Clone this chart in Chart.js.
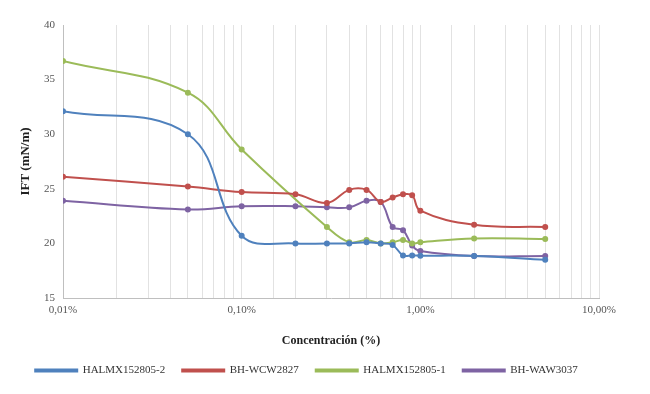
<!DOCTYPE html>
<html>
<head>
<meta charset="utf-8">
<script src="https://cdn.jsdelivr.net/npm/chart.js@4/dist/chart.umd.min.js"></script>
<style>
  body { margin: 0; background: #fff; }
  #wrap { width: 650px; height: 394px; }
</style>
</head>
<body>
<div id="wrap"><canvas id="ift-chart"></canvas></div>
<script>
// concentracion in %, shared by all series (null = no point)
const conc = [0.01, 0.05, 0.1, 0.2, 0.3, 0.4, 0.5, 0.6, 0.7, 0.8, 0.9, 1, 2, 5];

const halmx2 = [32.1, 30.0, 20.7, 20.0, 20.0, 20.0, 20.1, 20.0, 19.85, 18.9, 18.9, 18.88, 18.85, 18.5];
const bhWcw = [26.1, 25.2, 24.7, 24.5, 23.7, 24.9, 24.9, 23.8, 24.2, 24.5, 24.4, 23.0, 21.7, 21.5];
const halmx1 = [36.7, 33.8, 28.6, null, 21.5, 20.1, 20.3, 20.0, 20.1, 20.3, 20.0, 20.1, 20.45, 20.4];
const bhWaw = [23.9, 23.1, 23.4, 23.4, 23.3, 23.3, 23.9, 23.8, 21.5, 21.2, 19.8, 19.3, 18.85, 18.85];

const seriesNames = ['HALMX152805-2', 'BH-WCW2827', 'HALMX152805-1', 'BH-WAW3037'];
const seriesColors = ['#4f81bd', '#c0504d', '#9bbb59', '#7e63a3'];
const xTickValues = [0.01, 0.1, 1, 10];

const ctx = document.getElementById('ift-chart').getContext('2d');

function toPoints(values) {
    return conc.map((c, i) => ({ x: c, y: values[i] }));
}

const datasets = [halmx2, bhWcw, halmx1, bhWaw].map((vals, i) => ({
    label: seriesNames[i],
    data: toPoints(vals),
    borderColor: seriesColors[i],
    backgroundColor: seriesColors[i],
    borderWidth: 2,
    pointRadius: 2,
    pointHoverRadius: 2,
    tension: 0.4,
    spanGaps: true
}));

const serif = 'Liberation Serif, Times New Roman, serif';

function isDecade(v) {
    const l = Math.log10(v);
    return Math.abs(l - Math.round(l)) < 1e-6;
}

new Chart(ctx, {
    type: 'line',
    data: { datasets: datasets },
    options: {
        responsive: true,
        maintainAspectRatio: false,
        animation: false,
        layout: { padding: { left: 14, right: 51, top: 25, bottom: 8 } },
        plugins: {
            tooltip: { enabled: false },
            legend: {
                position: 'bottom',
                labels: {
                    boxWidth: 42,
                    boxHeight: 2,
                    padding: 17,
                    color: '#333',
                    font: { family: serif, size: 11 }
                }
            }
        },
        scales: {
            x: {
                type: 'logarithmic',
                min: 0.01,
                max: 10,
                grid: { color: '#e2e2e2', drawTicks: false },
                border: { color: '#bfbfbf' },
                ticks: {
                    autoSkip: false,
                    maxRotation: 0,
                    padding: 6,
                    color: '#555',
                    font: { family: serif, size: 11 },
                    callback: function(value) {
                        if (!isDecade(value)) return '';
                        const t = xTickValues.find(v => Math.abs(v - value) / v < 1e-6);
                        return t === undefined ? '' : t.toFixed(2).replace('.', ',') + '%';
                    }
                },
                title: {
                    display: true,
                    text: 'Concentración (%)',
                    color: '#222',
                    font: { family: serif, size: 12, weight: 'bold' },
                    padding: { top: 2, bottom: 0 }
                },
                afterFit: function(scale) { scale.height = 50; }
            },
            y: {
                min: 15,
                max: 40,
                grid: { display: false, drawTicks: false },
                border: { display: true, color: '#bfbfbf' },
                ticks: {
                    stepSize: 5,
                    padding: 8,
                    color: '#555',
                    font: { family: serif, size: 11 }
                },
                title: {
                    display: true,
                    text: 'IFT (mN/m)',
                    color: '#222',
                    font: { family: serif, size: 13, weight: 'bold' }
                },
                afterFit: function(scale) { scale.width = 49; }
            }
        }
    }
});
</script>
</body>
</html>
